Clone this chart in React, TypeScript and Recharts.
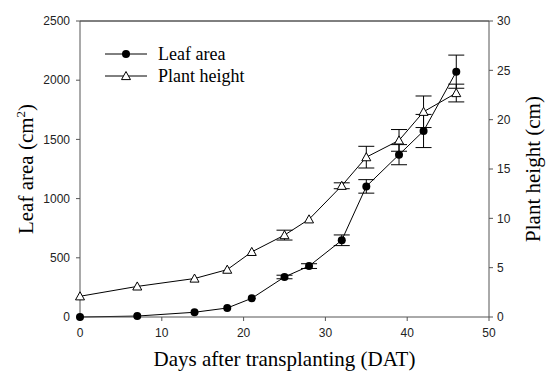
import {
  ComposedChart,
  Line,
  XAxis,
  YAxis,
  ErrorBar,
  ReferenceLine,
  Label,
} from "recharts";

const days = [0, 7, 14, 18, 21, 25, 28, 32, 35, 39, 42, 46];
const leafArea = [0, 8, 40, 76, 158, 338, 430, 648, 1103, 1371, 1571, 2072];
const leafAreaErr = [0, 0, 0, 0, 0, 15, 20, 45, 57, 85, 140, 140];
const plantHeight = [2.1, 3.1, 3.9, 4.8, 6.6, 8.3, 9.9, 13.3, 16.2, 17.9, 20.8, 22.7];
const plantHeightErr = [0, 0, 0, 0, 0, 0.5, 0, 0.3, 1.1, 1.1, 1.6, 0.9];

const xTicks = [0, 10, 20, 30, 40, 50];
const leftTicks = [0, 500, 1000, 1500, 2000, 2500];
const rightTicks = [0, 5, 10, 15, 20, 25, 30];

const data = days.map((day, i) => ({
  day,
  leaf: leafArea[i],
  leafErr: leafAreaErr[i],
  height: plantHeight[i],
  heightErr: plantHeightErr[i],
}));

const serif = "'Liberation Serif', 'Times New Roman', serif";
const sans = "'Liberation Sans', Arial, sans-serif";
const axisColor = "#555";
const tickStyle = { fontFamily: sans, fontSize: 12, fill: "#222" };

const CircleDot = (props: any) => {
  const { cx, cy, index } = props;
  if (cx == null || cy == null) return null;
  return <circle key={`c-${index}`} cx={cx} cy={cy} r={4} fill="#000" />;
};

const TriangleDot = (props: any) => {
  const { cx, cy, index } = props;
  if (cx == null || cy == null) return null;
  const s = 4.5;
  return (
    <path
      key={`t-${index}`}
      d={`M${cx},${cy - s} L${cx + s},${cy + s * 0.8} L${cx - s},${cy + s * 0.8} Z`}
      fill="#fff"
      stroke="#000"
      strokeWidth={1}
    />
  );
};

const LeftTitle = ({ viewBox }: any) => {
  const x = viewBox.x + 33;
  const y = viewBox.y + viewBox.height / 2;
  return (
    <text
      x={x}
      y={y}
      transform={`rotate(-90 ${x} ${y})`}
      textAnchor="middle"
      fontFamily={serif}
      fontSize={21}
      fill="#000"
    >
      Leaf area (cm
      <tspan dy={-8} fontSize={13}>
        2
      </tspan>
      <tspan dy={8}>)</tspan>
    </text>
  );
};

const RightTitle = ({ viewBox }: any) => {
  const x = viewBox.x + 51;
  const y = viewBox.y + viewBox.height / 2;
  return (
    <text
      x={x}
      y={y}
      transform={`rotate(-90 ${x} ${y})`}
      textAnchor="middle"
      fontFamily={serif}
      fontSize={21}
      fill="#000"
    >
      Plant height (cm)
    </text>
  );
};

const BottomTitle = ({ viewBox }: any) => (
  <text
    x={viewBox.x + viewBox.width / 2}
    y={viewBox.y + 49}
    textAnchor="middle"
    fontFamily={serif}
    fontSize={21}
    fill="#000"
  >
    Days after transplanting (DAT)
  </text>
);

// legend rows: line with marker in the middle, label on the right
const legendRows = [
  { name: "Leaf area", marker: "circle", y: 54 },
  { name: "Plant height", marker: "triangle", y: 76 },
];

const LegendBox = () => (
  <svg
    width={547}
    height={372}
    style={{ position: "absolute", left: 0, top: 0, pointerEvents: "none" }}
  >
    {legendRows.map((row) => (
      <g key={row.name}>
        <line x1={105} x2={147} y1={row.y} y2={row.y} stroke="#000" strokeWidth={1} />
        {row.marker === "circle" ? (
          <CircleDot cx={126} cy={row.y} index={0} />
        ) : (
          <TriangleDot cx={126} cy={row.y} index={0} />
        )}
        <text x={158} y={row.y + 6} fontFamily={serif} fontSize={18} fill="#000">
          {row.name}
        </text>
      </g>
    ))}
  </svg>
);

export default function App() {
  return (
    <div style={{ position: "absolute", left: 0, top: 0, width: 547, height: 372, background: "#fff" }}>
      <ComposedChart
        width={547}
        height={372}
        data={data}
        margin={{ top: 21, right: 0, bottom: 0, left: 0 }}
      >
        <XAxis
          dataKey="day"
          type="number"
          domain={[0, 50]}
          ticks={xTicks}
          height={55}
          tickSize={4}
          tickMargin={7}
          stroke={axisColor}
          tick={tickStyle}
        >
          <Label content={BottomTitle} />
        </XAxis>
        <YAxis
          yAxisId="left"
          orientation="left"
          domain={[0, 2500]}
          ticks={leftTicks}
          width={80}
          tickSize={4}
          tickMargin={6}
          stroke={axisColor}
          tick={tickStyle}
        >
          <Label content={LeftTitle} />
        </YAxis>
        <YAxis
          yAxisId="right"
          orientation="right"
          domain={[0, 30]}
          ticks={rightTicks}
          width={58}
          tickSize={4}
          tickMargin={4}
          stroke={axisColor}
          tick={tickStyle}
        >
          <Label content={RightTitle} />
        </YAxis>
        <ReferenceLine yAxisId="left" y={2500} stroke="#000" strokeWidth={1} />
        <Line
          yAxisId="left"
          dataKey="leaf"
          stroke="#000"
          strokeWidth={1}
          dot={CircleDot}
          activeDot={false}
          isAnimationActive={false}
        >
          <ErrorBar dataKey="leafErr" width={8} stroke="#000" strokeWidth={1} direction="y" />
        </Line>
        <Line
          yAxisId="right"
          dataKey="height"
          stroke="#000"
          strokeWidth={1}
          dot={TriangleDot}
          activeDot={false}
          isAnimationActive={false}
        >
          <ErrorBar dataKey="heightErr" width={8} stroke="#000" strokeWidth={1} direction="y" />
        </Line>
      </ComposedChart>
      <LegendBox />
    </div>
  );
}
